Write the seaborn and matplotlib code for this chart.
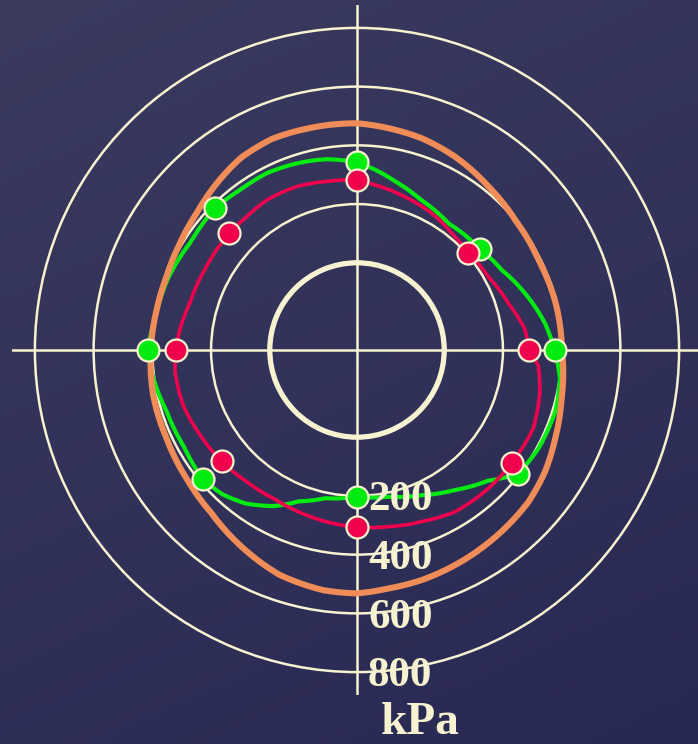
import numpy as np
import matplotlib
matplotlib.use("Agg")
import matplotlib.pyplot as plt
import seaborn as sns

sns.set_theme(style="white")
plt.rcParams['font.family'] = ['Liberation Serif', 'DejaVu Serif']

# measured points, angle in degrees counter-clockwise from east, pressure in kPa
green_pt_deg = [0, 39.5, 90, 135, 180, 220, 270, 322.5]
green_pt_kpa = [376, 245, 342, 386, 415, 388, 203, 395]
red_pt_deg = [0, 41, 90, 137.5, 180, 219.5, 270, 324]
red_pt_kpa = [289, 206, 282, 292, 321, 300, 306, 355]

# fitted curves
green_deg = [0, 8, 18.6, 29, 39.5, 54, 67, 77, 84, 90, 99, 108, 117, 126, 135,
             147, 159, 170, 180, 188, 198, 209, 220, 227, 234, 242, 249, 258,
             270, 282, 294, 305, 315, 322.5, 331.5, 343, 352]
green_kpa = [376, 350, 307, 266, 245, 235, 259, 291, 319, 342, 361, 371, 379, 378, 386,
             378, 391, 398, 415, 403, 384, 378, 388, 375, 349, 305, 255, 219,
             203, 214, 244, 285, 333, 395, 406, 410, 401]
red_deg = [0, 7, 17, 29, 41, 51, 61, 73, 84, 90, 100, 110, 121, 130, 137.5, 152,
           164, 180, 187, 198, 208, 219.5, 230, 241, 253, 270, 280, 291, 301,
           313.5, 324, 336, 347, 355]
red_kpa = [289, 279, 243, 215, 206, 215, 233, 250, 269, 282, 286, 296, 299, 292, 292, 289,
           294, 321, 327, 324, 311, 300, 288, 283, 291, 306, 314, 328, 347,
           353, 355, 360, 342, 323]
orange_deg = [0, 14, 26, 39, 51, 63, 73, 82, 90, 103, 112, 121, 130, 139.5, 149,
              159, 169, 180, 192.5, 205, 217, 228, 239, 251, 262, 270, 277.5,
              285.7, 294.5, 309.7, 318.5, 327, 336, 346.7, 352]
orange_kpa = [401, 398, 393, 400, 417, 441, 457, 466, 475, 476, 478, 468, 445, 421, 407,
              398, 399, 405, 414, 418, 430, 447, 478, 513, 529, 532, 522,
              517, 508, 492, 483, 466, 442, 419, 412]

ring_kpa = [0, 200, 400, 600, 800]
ring_labels = ['200', '400', '600', '800']
unit_label = 'kPa'

cream = '#f7f2cf'
green = '#00ec10'
red = '#f2004e'
orange = '#f08c58'


def closed(deg, kpa):
    th = np.deg2rad(list(deg) + [deg[0] + 360])
    return th, list(kpa) + [kpa[0]]


fig = plt.figure(figsize=(6.98, 7.44), dpi=100)

# slide background
bg = fig.add_axes([0, 0, 1, 1], zorder=-1)
yy, xx = np.mgrid[0:1:200j, 0:1:200j]
shade = np.clip(0.7 * yy + 0.3 * xx, 0, 1)[..., None]
top = np.array([0x3b, 0x3b, 0x60]) / 255
bottom = np.array([0x28, 0x29, 0x53]) / 255
bg.imshow(top + (bottom - top) * shade, aspect='auto', extent=[0, 1, 0, 1])
bg.axis('off')

ax = fig.add_axes([12 / 698, 49 / 744, 690 / 698, 690 / 744], projection='polar')
ax.set_facecolor('none')

th, r = closed(orange_deg, orange_kpa)
sns.lineplot(x=th, y=r, sort=False, estimator=None, color=orange, lw=4.4, ax=ax, zorder=3)
th, r = closed(green_deg, green_kpa)
sns.lineplot(x=th, y=r, sort=False, estimator=None, color=green, lw=3.0, ax=ax, zorder=2.6)
th, r = closed(red_deg, red_kpa)
sns.lineplot(x=th, y=r, sort=False, estimator=None, color=red, lw=2.6, ax=ax, zorder=2.7)

# let the polar transform bend each segment along theta instead of drawing chords
for line in ax.lines:
    line.get_path()._interpolation_steps = 24

sns.scatterplot(x=np.deg2rad(green_pt_deg), y=green_pt_kpa, s=250, color=green,
                edgecolor=cream, linewidth=1.6, ax=ax, zorder=5, legend=False)
sns.scatterplot(x=np.deg2rad(red_pt_deg), y=red_pt_kpa, s=250, color=red,
                edgecolor=cream, linewidth=1.6, ax=ax, zorder=5.5, legend=False)

ax.set_rlim(-297, 878)
ax.set_rgrids(ring_kpa, labels=[''] * len(ring_kpa))
ax.set_thetagrids([0, 90, 180, 270], labels=[''] * 4)
ax.grid(True, color=cream, lw=1.8)
ax.yaxis.get_major_ticks()[0].gridline.set_linewidth(3.8)
ax.spines['polar'].set_visible(False)
ax.tick_params(length=0)
ax.set_xlabel('')
ax.set_ylabel('')

for v, lab in zip(ring_kpa[1:], ring_labels):
    ax.annotate(lab, xy=(np.deg2rad(270), v), xytext=(8, -3), textcoords='offset points',
                ha='left', va='center', color=cream, fontsize=31, fontweight='bold',
                family=['Liberation Serif'], zorder=7, annotation_clip=False)

fig.text(420 / 698, 1 - 734 / 744, unit_label, ha='center', va='baseline', color=cream,
         fontsize=34, fontweight='bold', family=['Liberation Serif'])

fig.savefig('out.png', dpi=100)
